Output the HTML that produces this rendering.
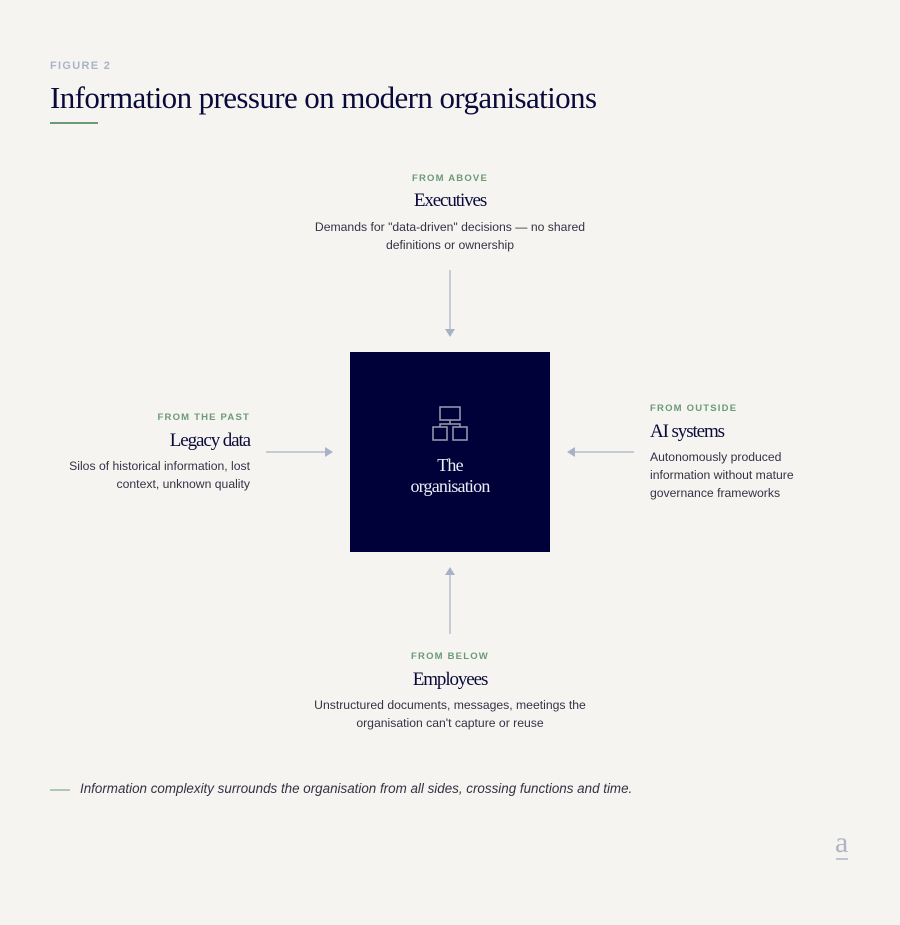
<!DOCTYPE html>
<html><head><meta charset="utf-8"><style>
body{margin:0;width:900px;height:925px;background:#f5f4f1;position:relative;overflow:hidden;font-family:"Liberation Sans",sans-serif}
.a{position:absolute}
.lab{font-size:9.5px;font-weight:bold;letter-spacing:1.2px;color:#6b9a76}
.ser{font-family:"Liberation Serif",serif;color:#0a0a3a;letter-spacing:-0.6px}
.h{font-size:19px;letter-spacing:-1.1px}
.d{font-size:12.2px;color:#333345;line-height:18px}
.c{text-align:center;width:400px;left:250px}
</style></head><body>
<div class="a" style="left:50px;top:60px;font-size:11px;font-weight:bold;letter-spacing:1.3px;color:#aab4c8">FIGURE 2</div>
<div class="a ser" style="left:50px;top:80px;font-size:31px;letter-spacing:-0.6px;white-space:nowrap">Information pressure on modern organisations</div>
<div class="a" style="left:50px;top:122px;width:48px;height:2px;background:#6b9a76"></div>

<div class="a lab c" style="top:173px">FROM ABOVE</div>
<div class="a ser h c" style="top:190px">Executives</div>
<div class="a d c" style="top:218px">Demands for "data-driven" decisions — no shared<br>definitions or ownership</div>

<div class="a lab" style="left:50px;width:200px;text-align:right;top:412px">FROM THE PAST</div>
<div class="a ser h" style="left:50px;width:200px;text-align:right;top:430px">Legacy data</div>
<div class="a d" style="left:20px;width:230px;text-align:right;top:457px">Silos of historical information, lost<br>context, unknown quality</div>

<div class="a lab" style="left:650px;top:403px">FROM OUTSIDE</div>
<div class="a ser h" style="left:650px;top:421px">AI systems</div>
<div class="a d" style="left:650px;top:448px">Autonomously produced<br>information without mature<br>governance frameworks</div>

<div class="a lab c" style="top:651px">FROM BELOW</div>
<div class="a ser h c" style="top:669px">Employees</div>
<div class="a d c" style="top:696px">Unstructured documents, messages, meetings the<br>organisation can't capture or reuse</div>

<div class="a" style="left:350px;top:352px;width:200px;height:200px;background:#01013a"></div>
<svg class="a" style="left:0;top:0" width="900" height="925">
<g fill="none" stroke="#9aa0b0" stroke-width="1.5">
<rect x="440" y="407" width="20" height="13"/>
<rect x="433" y="427" width="14" height="13"/>
<rect x="453" y="427" width="14" height="13"/>
<path d="M450 420v4M440 427v-3h20v3"/>
</g>
<g stroke="#a8b2c6" stroke-width="1.2" fill="#a8b2c6">
<line x1="450" y1="270" x2="450" y2="330"/><path d="M445 329h10l-5 8z" stroke="none"/>
<line x1="450" y1="634" x2="450" y2="574"/><path d="M445 575h10l-5-8z" stroke="none"/>
<line x1="266" y1="452" x2="326" y2="452"/><path d="M325 447v10l8-5z" stroke="none"/>
<line x1="634" y1="452" x2="574" y2="452"/><path d="M575 447v10l-8-5z" stroke="none"/>
</g>
<line x1="50" y1="790" x2="70" y2="790" stroke="#6b9a76" stroke-width="1"/>
<line x1="836" y1="859" x2="848" y2="859" stroke="#b0b4c4" stroke-width="1.5"/>
</svg>
<div class="a ser" style="top:455px;text-align:center;color:#e8eef8;font-size:18px;line-height:21px;left:350px;width:200px;letter-spacing:-0.8px">The<br>organisation</div>
<div class="a" style="left:80px;top:781px;font-size:13.4px;font-style:italic;color:#333345;white-space:nowrap">Information complexity surrounds the organisation from all sides, crossing functions and time.</div>
<div class="a" style="left:835px;top:826px;font-family:'Liberation Serif',serif;font-size:30px;color:#b0b4c4">a</div>
</body></html>
